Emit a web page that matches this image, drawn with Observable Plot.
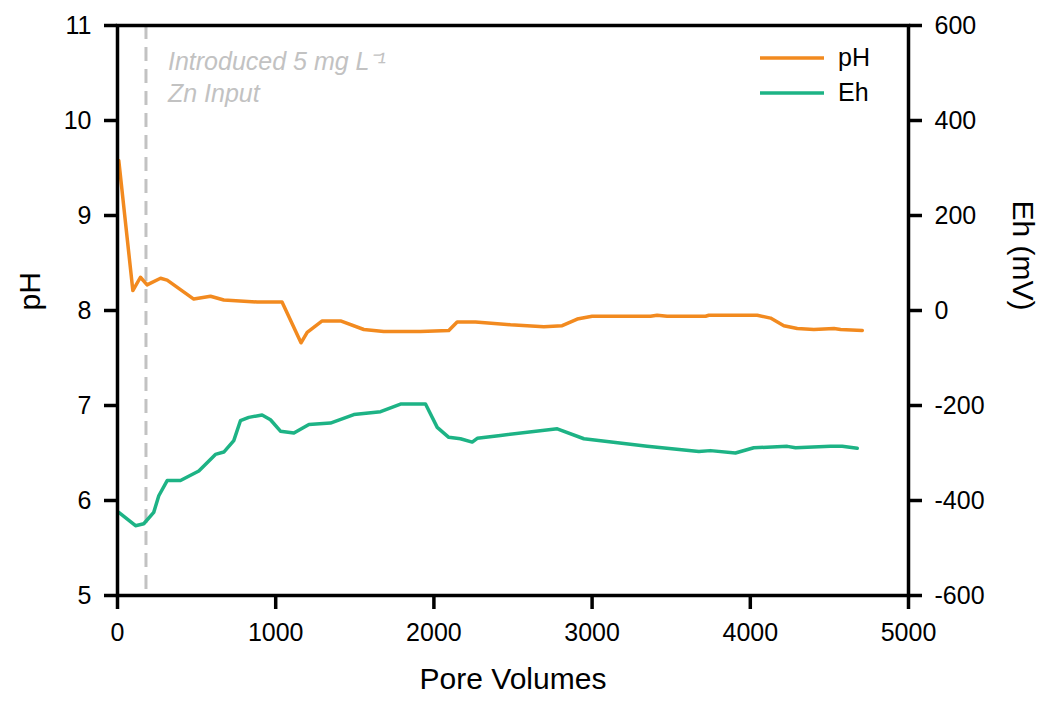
<!DOCTYPE html>
<html>
<head>
<meta charset="utf-8">
<script src="https://cdn.jsdelivr.net/npm/d3@7"></script>
<script src="https://cdn.jsdelivr.net/npm/@observablehq/plot@0.6"></script>
<style>
  body { margin: 0; background: #fff; font-family: "Liberation Sans", Arial, sans-serif; }
  #chart { position: relative; width: 1041px; height: 704px; }
  .legend { position: absolute; left: 758px; top: 40px; }
  .legend-row { display: flex; align-items: center; height: 35px; font-size: 25px; color: #000; }
  .legend-row svg { margin-right: 12px; }
</style>
</head>
<body>
<div id="chart"></div>
<script>
// pH record against pore volumes
const pvPH = [8, 97, 145, 187, 272, 314, 398, 482, 588, 672, 883, 1040, 1160, 1199, 1294, 1410, 1557, 1683, 1915, 2094,
              2147, 2263, 2484, 2695, 2811, 2906, 3000, 3369, 3411, 3474, 3717, 3738, 4044, 4128, 4212, 4297, 4402, 4529, 4571, 4708];
const pHValues = [9.58, 8.21, 8.35, 8.27, 8.34, 8.32, 8.22, 8.12, 8.15, 8.11, 8.09, 8.09, 7.66, 7.77, 7.89, 7.89, 7.80, 7.78, 7.78, 7.79,
                  7.88, 7.88, 7.85, 7.83, 7.84, 7.91, 7.94, 7.94, 7.95, 7.94, 7.94, 7.95, 7.95, 7.92, 7.84, 7.81, 7.80, 7.81, 7.80, 7.79];

// Redox potential (mV) against pore volumes
const pvEh = [8, 114, 166, 229, 261, 314, 398, 514, 619, 672, 735, 777, 830, 914, 967, 1030, 1115, 1210, 1346, 1494,
              1663, 1789, 1947, 2021, 2094, 2168, 2242, 2274, 2421, 2780, 2948, 3348, 3675, 3748, 3906, 4022, 4234, 4286, 4507, 4581, 4676];
const ehValues = [-425, -453, -449, -425, -390, -358, -358, -338, -303, -298, -274, -232, -225, -220, -230, -254, -258, -240, -237, -219,
                  -213, -197, -197, -246, -267, -270, -277, -269, -263, -249, -270, -286, -297, -295, -300, -289, -286, -289, -286, -286, -290];

// Pore volume at which the Zn spike began
const znInput = [180];

// Axis ticks
const xTicks = [0, 1000, 2000, 3000, 4000, 5000];
const pHTicks = [5, 6, 7, 8, 9, 10, 11];
const ehTicks = [-600, -400, -200, 0, 200, 400, 600];

const orange = "#f28a1f";
const green = "#1db385";
const annotationGrey = "#c2c2c2";

// Eh (-600..600 mV) shares the frame with pH (5..11)
const ehToPH = eh => 8 + eh / 200;
const pHToEh = p => Math.round((p - 8) * 200);

const pHRows = pvPH.map((pv, i) => ({pv, value: pHValues[i]}));
const ehRows = pvEh.map((pv, i) => ({pv, value: ehValues[i]}));

const font = "'Liberation Sans', Arial, sans-serif";
const tickFont = 25;
const titleFont = 30;

const chart = Plot.plot({
  width: 1041,
  height: 704,
  marginLeft: 117,
  marginRight: 133,
  marginTop: 25,
  marginBottom: 109,
  style: {fontFamily: font, fontSize: "25px", color: "#000", background: "#fff", overflow: "visible"},
  x: {domain: [0, 5000]},
  y: {domain: [5, 11]},
  marks: [
    Plot.ruleX(znInput, {stroke: annotationGrey, strokeWidth: 3, strokeDasharray: "14,8"}),
    Plot.text(znInput, {
      x: d => d, frameAnchor: "top", dx: 22, dy: 21, lineAnchor: "top", textAnchor: "start",
      text: () => "Introduced 5 mg L\u207B\u00B9\nZn Input", lineHeight: 1.3,
      fontStyle: "italic", fontSize: 25, fill: annotationGrey
    }),
    Plot.line(pHRows, {x: "pv", y: "value", stroke: orange, strokeWidth: 3.5}),
    Plot.line(ehRows, {x: "pv", y: d => ehToPH(d.value), stroke: green, strokeWidth: 3.5}),
    Plot.frame({stroke: "#000", strokeWidth: 3.5}),
    Plot.axisX({ticks: xTicks, tickFormat: d => String(d), tickSize: 14, tickPadding: 14, strokeWidth: 3.5, fontSize: tickFont, label: null}),
    Plot.axisY({anchor: "left", ticks: pHTicks, tickFormat: d => String(d), tickSize: 13, tickPadding: 13, strokeWidth: 3.5, fontSize: tickFont, label: null}),
    Plot.axisY({anchor: "right", ticks: ehTicks.map(ehToPH), tickFormat: d => String(pHToEh(d)), tickSize: 13, tickPadding: 13, strokeWidth: 3.5, fontSize: tickFont, label: null}),
    Plot.text(["Pore Volumes"], {frameAnchor: "bottom", dy: 93, fontSize: titleFont}),
    Plot.text(["pH"], {frameAnchor: "left", dx: -87, rotate: -90, fontSize: titleFont}),
    Plot.text(["Eh (mV)"], {frameAnchor: "right", dx: 114, rotate: 90, fontSize: titleFont})
  ]
});

const host = document.getElementById("chart");
host.appendChild(chart);

// Series key
const legend = document.createElement("div");
legend.className = "legend";
[["pH", orange], ["Eh", green]].forEach(([name, color]) => {
  const row = document.createElement("div");
  row.className = "legend-row";
  row.innerHTML = `<svg width="68" height="6"><line x1="2" x2="66" y1="3" y2="3" stroke="${color}" stroke-width="3.5"/></svg><span>${name}</span>`;
  legend.appendChild(row);
});
host.appendChild(legend);
</script>
</body>
</html>
